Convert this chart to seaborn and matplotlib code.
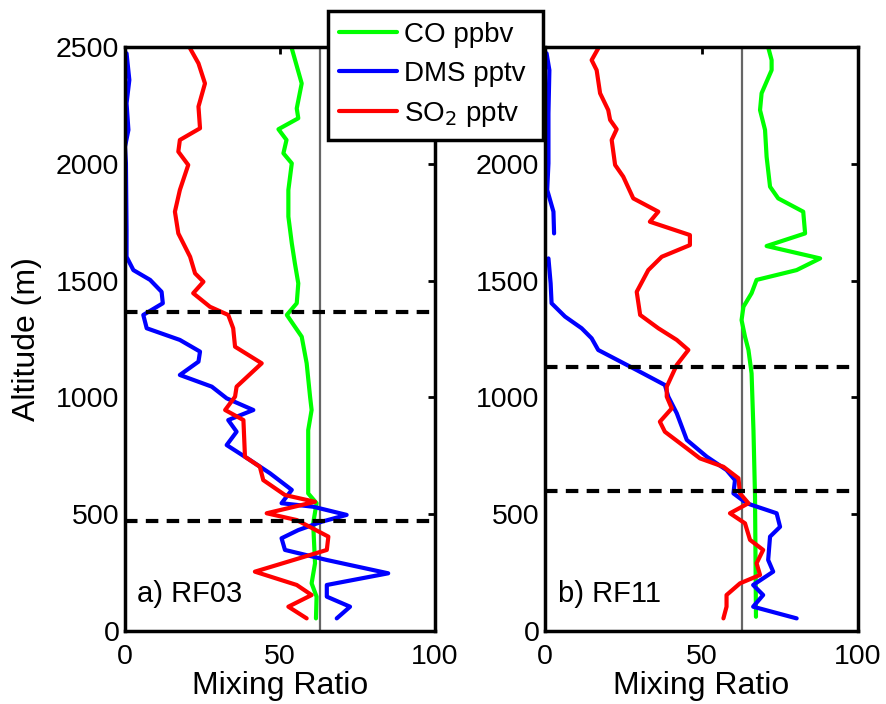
import numpy as np
import pandas as pd
import matplotlib
matplotlib.use("Agg")
import matplotlib.pyplot as plt
import seaborn as sns
from matplotlib.lines import Line2D

# ---------------- data ----------------
# Panel a) RF03
a_co_alt = [2494, 2344, 2237, 2195, 2148, 2102, 2045, 2002, 1888, 1774, 1660, 1574, 1488, 1403, 1353,
            1260, 1146, 1003, 946, 860, 718, 589, 547, 461, 290, 204, 147, 54]
a_co_val = [53.8, 57.0, 55.4, 55.9, 49.5, 52.1, 51.1, 53.8, 52.7, 52.7, 53.8, 54.8, 55.9, 55.4, 52.2,
            57.0, 58.6, 59.7, 60.2, 59.1, 59.1, 59.1, 61.8, 60.7, 61.3, 60.2, 61.8, 61.6]

a_dms_alt = [2473, 2359, 2259, 2145, 2073, 2002, 1717, 1602, 1545, 1503, 1452, 1403, 1353, 1296,
             1246, 1196, 1153, 1096, 1046, 996, 946, 903, 853, 796, 732, 675, 604, 547, 532, 497,
             468, 432, 397, 347, 304, 247, 197, 147, 104, 54]
a_dms_val = [0.5, 1.4, 0.5, 1.1, 0.0, 0.3, 0.5, 0.5, 2.7, 8.1, 11.8, 12.2, 5.9, 7.0,
             17.7, 24.2, 23.7, 17.7, 28.0, 32.8, 41.4, 33.3, 36.0, 32.8, 40.3, 46.8, 53.8, 50.5, 60.7, 71.5,
             63.5, 55.9, 50.5, 51.6, 65.1, 84.9, 65.1, 65.1, 72.6, 68.3]

a_so2_alt = [2494, 2430, 2344, 2245, 2152, 2102, 2052, 1995, 1888, 1795, 1702, 1602, 1531, 1495, 1446,
             1388, 1353, 1296, 1217, 1146, 1046, 1003, 946, 903, 746, 703, 646, 582, 553, 504, 475,
             404, 347, 254, 197, 154, 104, 54]
a_so2_val = [21.0, 23.7, 25.8, 23.7, 24.2, 17.7, 17.2, 20.4, 17.7, 16.1, 17.2, 21.0, 22.6, 25.3, 22.0,
             27.4, 33.3, 34.9, 35.5, 44.1, 36.0, 35.5, 32.3, 38.2, 38.7, 43.5, 44.6, 51.6, 61.3, 45.7, 55.4,
             65.6, 65.1, 41.9, 55.4, 60.2, 52.7, 58.6]

# Panel b) RF11
b_co_alt = [2494, 2444, 2401, 2302, 2230, 2145, 2030, 1902, 1852, 1795, 1702, 1648, 1595, 1545, 1503,
            1446, 1388, 1331, 1260, 1203, 1103, 860, 575, 61]
b_co_val = [71.4, 72.4, 72.4, 69.2, 68.7, 70.3, 70.8, 71.9, 74.5, 82.5, 83.1, 70.8, 87.9, 80.4, 67.6,
            66.0, 63.4, 62.8, 63.9, 65.0, 66.0, 66.6, 67.1, 67.4]

b_dms_top_alt = [2473, 2401, 2216, 2002, 1888, 1795, 1702]
b_dms_top_val = [0.5, 1.4, 1.1, 1.1, 0.7, 2.7, 2.9]
b_dms_alt = [1595, 1488, 1403, 1346, 1296, 1253, 1203, 1117, 1053, 1003, 932, 818, 746, 689, 646,
             589, 547, 504, 446, 404, 304, 254, 197, 154, 104, 54]
b_dms_val = [1.1, 1.8, 2.1, 6.4, 11.7, 14.9, 17.0, 29.3, 38.3, 39.4, 42.1, 45.3, 51.7, 58.0, 60.7,
             60.2, 64.4, 74.0, 75.1, 71.9, 71.3, 72.9, 66.5, 69.7, 66.5, 80.4]

b_so2_alt = [2494, 2444, 2401, 2302, 2230, 2188, 2148, 2102, 1995, 1945, 1852, 1795, 1752, 1695, 1652,
             1602, 1545, 1452, 1353, 1296, 1246, 1203, 1139, 1046, 1003, 953, 896, 853, 782, 739,
             703, 654, 589, 547, 504, 461, 390, 347, 290, 240, 204, 154, 104, 54]
b_so2_val = [17.0, 14.9, 16.5, 17.6, 20.2, 20.8, 22.9, 21.3, 22.4, 25.0, 28.2, 36.2, 33.5, 46.3, 46.3,
             37.3, 33.0, 29.3, 30.4, 36.2, 42.1, 45.8, 42.1, 38.9, 38.9, 40.5, 36.7, 38.3, 45.3, 49.5,
             57.0, 61.8, 62.3, 65.0, 59.1, 63.9, 65.5, 69.7, 67.6, 68.7, 62.3, 58.0, 58.0, 57.0]

ref_value = 63          # grey vertical reference line
a_layers = [1367, 472]  # dashed boundary altitudes, RF03
b_layers = [1131, 598]  # dashed boundary altitudes, RF11
panel_labels = ["a) RF03", "b) RF11"]
series_labels = ["CO ppbv", "DMS pptv", "SO$_2$ pptv"]
x_ticks = [0, 50, 100]
y_ticks = [0, 500, 1000, 1500, 2000, 2500]
colors = {"CO": "#00ff00", "DMS": "#0000ff", "SO2": "#ff0000"}

# ---------------- plotting ----------------
sns.set_style("white")
plt.rcParams["font.family"] = ["Liberation Sans", "DejaVu Sans"]
plt.rcParams["font.size"] = 17
for key in ["text.color", "axes.labelcolor", "xtick.color", "ytick.color"]:
    plt.rcParams[key] = "black"

fig = plt.figure(figsize=(8.86, 7.04), dpi=100)
ax1 = fig.add_axes([125 / 886, 1 - 631 / 704, 310 / 886, 584 / 704])
ax2 = fig.add_axes([545 / 886, 1 - 631 / 704, 313 / 886, 584 / 704])

LW = 3.0

def prof(ax, vals, alts, color):
    df = pd.DataFrame({"v": vals, "alt": alts})
    sns.lineplot(data=df, x="v", y="alt", sort=False, estimator=None, color=color,
                 lw=LW, ax=ax, legend=False)

panels = [
    (ax1, [(a_co_val, a_co_alt, "CO"), (a_dms_val, a_dms_alt, "DMS"), (a_so2_val, a_so2_alt, "SO2")], a_layers),
    (ax2, [(b_co_val, b_co_alt, "CO"), (b_dms_top_val, b_dms_top_alt, "DMS"),
           (b_dms_val, b_dms_alt, "DMS"), (b_so2_val, b_so2_alt, "SO2")], b_layers),
]

for i, (ax, series, layers) in enumerate(panels):
    ax.axvline(ref_value, color="#666666", lw=1.6, zorder=1)
    for v, a, k in series:
        prof(ax, v, a, colors[k])
    for h in layers:
        ax.axhline(h, color="black", lw=3, ls=(0, (3, 2)), zorder=5)
    ax.set_xlim(0, 100)
    ax.set_ylim(0, 2500)
    ax.set_xticks(x_ticks)
    ax.set_yticks(y_ticks)
    ax.tick_params(direction="in", length=5, width=2, top=True, right=True,
                   labelsize=20.5)
    ax.tick_params(axis="x", pad=9)
    ax.tick_params(axis="y", pad=4)
    for s in ax.spines.values():
        s.set_linewidth(2.5)
        s.set_color("black")
    ax.set_xlabel("Mixing Ratio", fontsize=23, labelpad=1)
    ax.set_ylabel("")
    ax.text(0.04, 0.04, panel_labels[i], transform=ax.transAxes, fontsize=21,
            ha="left", va="bottom")

ax1.set_ylabel("Altitude (m)", fontsize=23, labelpad=10)
# the top label of the right panel lies hidden beneath the legend box
ax2.set_yticklabels([str(t) if t < 2500 else "" for t in y_ticks])

handles = [Line2D([], [], color=colors[k], lw=LW) for k in ["CO", "DMS", "SO2"]]
leg = fig.legend(handles, series_labels, loc="upper left",
                 bbox_to_anchor=(328 / 886, 1 - 142 / 704, 215 / 886, 131 / 704),
                 mode="expand", frameon=True, fancybox=False,
                 fontsize=20, handlelength=2.1, borderpad=0.4, labelspacing=0.47,
                 handletextpad=0.25, borderaxespad=0)
leg.get_frame().set_edgecolor("black")
leg.get_frame().set_linewidth(2.5)
leg.get_frame().set_facecolor("white")
leg.get_frame().set_alpha(1)

fig.savefig("out.png", dpi=100)
